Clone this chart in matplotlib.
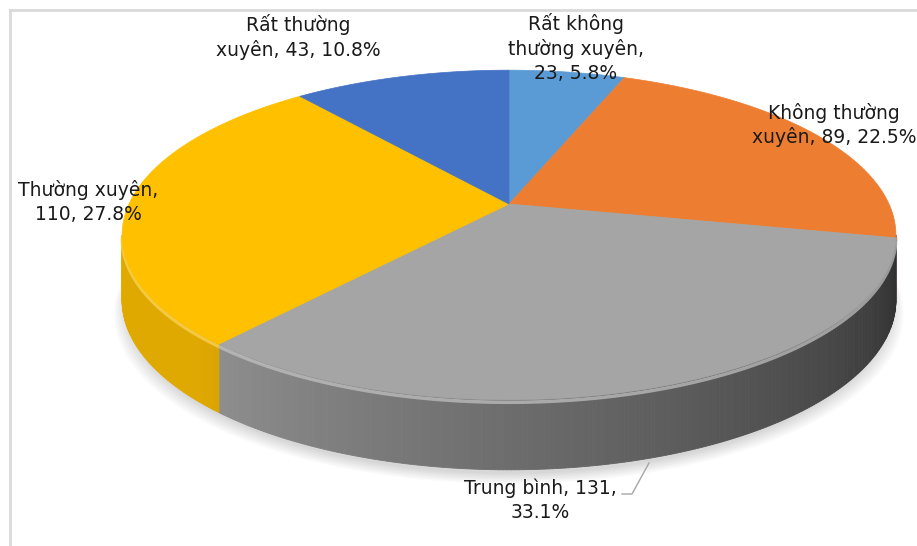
import numpy as np
import matplotlib
matplotlib.use('Agg')
import matplotlib.pyplot as plt
from matplotlib.patches import Polygon
from matplotlib.colors import to_rgb

plt.rcParams['font.family'] = 'DejaVu Sans'

# Dữ liệu (thứ tự theo chiều kim đồng hồ, bắt đầu từ 12 giờ)
categories = ['Rất không\nthường xuyên,', 'Không thường\nxuyên,', 'Trung bình,',
              'Thường xuyên,', 'Rất thường\nxuyên,']
values = [23, 89, 131, 110, 43]
pct_labels = [5.8, 22.5, 33.1, 27.8, 10.8]
colors = ['#5B9BD5', '#ED7D31', '#A5A5A5', '#FFC000', '#4472C4']

# Cách ngắt dòng của từng nhãn
label_fmt = ['{c}\n{v}, {p}%', '{c} {v}, {p}%', '{c} {v},\n{p}%',
             '{c}\n{v}, {p}%', '{c} {v}, {p}%']
label_text = [f.format(c=c, v=v, p=p)
              for f, c, v, p in zip(label_fmt, categories, values, pct_labels)]

# Vị trí nhãn (pixel)
label_xy = [(576, 48), (834, 125), (540, 500), (88, 202), (298, 37)]

# Hình học bánh 3D (phối cảnh đơn giản)
CX, CY, R, A, K = 509, 204, 380, 159, 0.188


def proj(theta, drop=0.0):
    u, v = np.sin(theta), np.cos(theta)
    s = 1 / (1 + K * v)
    return CX + R * u * s, CY - A * v * s + drop


def depth(theta):
    return 64 - 6 * np.cos(theta)


def shade(theta):
    d = np.degrees(theta)
    return np.clip(0.30 + (d - 105) * 0.0048, 0.28, 0.88)


fig = plt.figure(figsize=(9.17, 5.46), dpi=100)
ax = fig.add_axes([0, 0, 1, 1])
ax.set_xlim(0, 917)
ax.set_ylim(546, 0)
ax.axis('off')

# Bóng đổ mờ (chỉ phía dưới)
tt = np.linspace(0, 2 * np.pi, 400)
for sc, off in zip(np.linspace(1.02, 0.99, 8), np.linspace(14, 4, 8)):
    x, y = proj(tt, depth(tt) + off)
    x = CX + (x - CX) * sc
    ax.add_patch(Polygon(np.column_stack([x, y]), closed=True,
                         facecolor='#000000', edgecolor='none', alpha=0.02, zorder=1))

# Góc các lát
fracs = np.array(values) / np.sum(values)
bounds = np.concatenate([[0], np.cumsum(fracs)]) * 2 * np.pi
theta_r = np.pi / 2 + np.arcsin(K)
theta_l = 3 * np.pi / 2 - np.arcsin(K)

# Mặt bên
for i, col in enumerate(colors):
    t0, t1 = max(bounds[i], theta_r), min(bounds[i + 1], theta_l)
    if t1 <= t0:
        continue
    base = np.array(to_rgb(col))
    steps = np.linspace(t0, t1, max(2, int(np.degrees(t1 - t0) * 2)))
    for a, b in zip(steps[:-1], steps[1:]):
        xa, ya = proj(a)
        xb, yb = proj(b)
        xa2, ya2 = proj(a, depth(a))
        xb2, yb2 = proj(b, depth(b))
        c = base * shade((a + b) / 2)
        ax.add_patch(Polygon([(xa, ya), (xb, yb), (xb2, yb2), (xa2, ya2)],
                             closed=True, facecolor=c, edgecolor=c,
                             linewidth=0.6, zorder=2))
    # viền sáng (bevel)
    arc = np.linspace(t0, t1, 100)
    x, y = proj(arc, 2.5)
    light = base + (1 - base) * 0.35
    ax.plot(x, y, color=light, lw=2.5, alpha=0.7, zorder=3, solid_capstyle='butt')

# Mặt trên
for i, col in enumerate(colors):
    arc = np.linspace(bounds[i], bounds[i + 1], 200)
    x, y = proj(arc)
    pts = np.vstack([[CX, CY], np.column_stack([x, y])])
    ax.add_patch(Polygon(pts, closed=True, facecolor=col, edgecolor=col,
                         linewidth=0.5, zorder=4))

# Nhãn dữ liệu
for txt, (lx, ly) in zip(label_text, label_xy):
    ax.text(lx, ly, txt, ha='center', va='center', fontsize=13.5,
            color='#1a1a1a', linespacing=1.3, zorder=6)

# Đường dẫn nhãn "Trung bình"
ax.plot([622, 632, 649], [494, 494, 463], color='#A6A6A6', lw=1, zorder=5)

# Khung biểu đồ
ax.plot([10, 10], [546, 10], color='#D9D9D9', lw=2, zorder=7)
ax.plot([10, 917], [10, 10], color='#D9D9D9', lw=2, zorder=7)

fig.savefig('out.png', dpi=100, facecolor='white')
